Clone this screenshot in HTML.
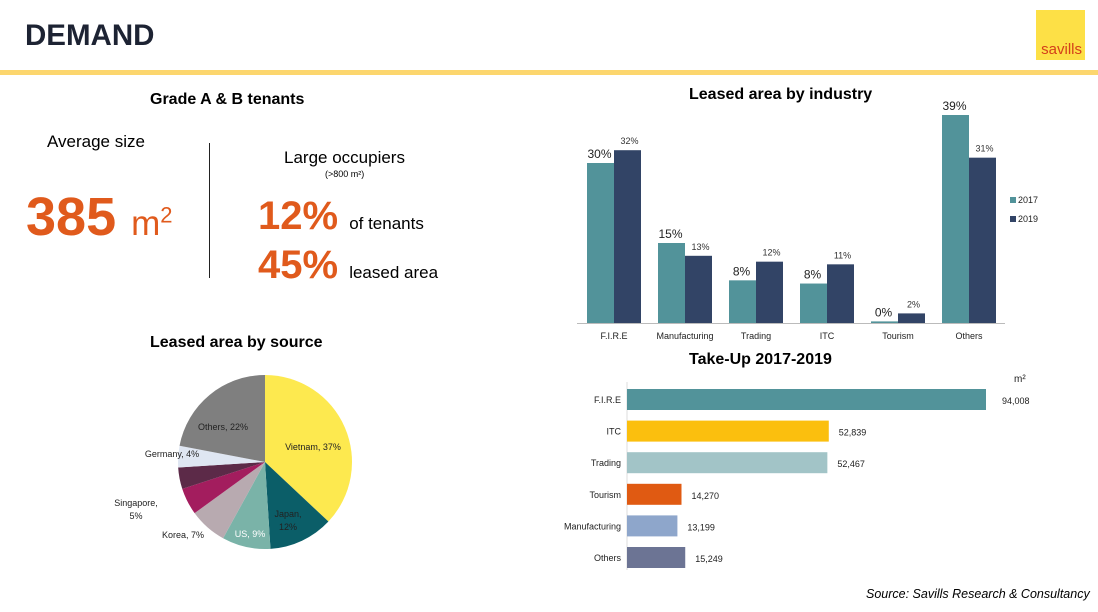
<!DOCTYPE html>
<html><head><meta charset="utf-8"><style>
body{margin:0;width:1098px;height:612px;background:#fff;font-family:"Liberation Sans",sans-serif;position:relative;overflow:hidden}
.a{position:absolute;white-space:nowrap}
.or{color:#e05a1c;font-weight:bold}
</style></head><body>
<div class="a" style="left:25px;top:19px;font-size:29.5px;font-weight:bold;color:#1d2333">DEMAND</div>
<div class="a" style="left:1036px;top:10px;width:49px;height:50px;background:#fde046"><span style="position:absolute;right:3px;bottom:2px;font-size:15px;color:#d4401a">savills</span></div>
<div class="a" style="left:0;top:70px;width:1098px;height:5px;background:#fcd66e"></div>

<div class="a" style="left:150px;top:91px;font-size:16px;font-weight:bold">Grade A &amp; B tenants</div>
<div class="a" style="left:47px;top:132px;font-size:17px">Average size</div>
<div class="a or" style="left:26px;top:186px;font-size:54px">385 <span style="font-weight:normal;font-size:35px">m<sup style="font-size:22px">2</sup></span></div>
<div class="a" style="left:209px;top:143px;width:1px;height:135px;background:#222"></div>
<div class="a" style="left:284px;top:148px;font-size:17px">Large occupiers</div>
<div class="a" style="left:325px;top:169px;font-size:9px">(&gt;800 m²)</div>
<div class="a" style="left:258px;top:194px;font-size:40px"><span class="or">12%</span> <span style="font-size:17px">of tenants</span></div>
<div class="a" style="left:258px;top:243px;font-size:40px"><span class="or">45%</span> <span style="font-size:17px">leased area</span></div>

<div class="a" style="left:150px;top:334px;font-size:16px;font-weight:bold">Leased area by source</div>
<div class="a" style="left:689px;top:86px;font-size:16px;font-weight:bold">Leased area by industry</div>
<div class="a" style="left:689px;top:351px;font-size:16px;font-weight:bold">Take-Up 2017-2019</div>
<div class="a" style="left:866px;top:587px;font-size:12.5px;font-style:italic">Source: Savills Research &amp; Consultancy</div>

<svg class="a" style="left:0;top:0" width="1098" height="612" id="svg"></svg>
<script>
const pieLabels=["Vietnam, 37%","Japan, 12%","US, 9%","Korea, 7%","Singapore, 5%","","Germany, 4%","Others, 22%"];
const pieValues=[37,12,9,7,5,4,4,22];
const pieColors=["#fde94f","#0b5e68","#7ab3a8","#b8aab0","#a31d5e","#5c2a48","#dfe6f2","#7f7f7f"];
const cats=["F.I.R.E","Manufacturing","Trading","ITC","Tourism","Others"];
const v2017=[30,15,8,7.4,0.3,39];
const v2019=[32.4,12.6,11.5,11,1.8,31];
const l2017=["30%","15%","8%","8%","0%","39%"];
const l2019=["32%","13%","12%","11%","2%","31%"];
const tuCats=["F.I.R.E","ITC","Trading","Tourism","Manufacturing","Others"];
const tuVals=[94008,52839,52467,14270,13199,15249];
const tuColors=["#52939a","#fbbf0e","#a2c4c7","#e05a12","#8ea6cb","#6c7494"];
const S=document.getElementById('svg'),NS="http://www.w3.org/2000/svg";
function mk(t,a,p){const e=document.createElementNS(NS,t);for(const k in a)e.setAttribute(k,a[k]);(p||S).appendChild(e);return e;}
function tx(x,y,s,size,anchor,fill,name){const e=mk('text',{x:x,y:y,'font-size':size,'text-anchor':anchor||'middle',fill:fill||'#222','font-family':'Liberation Sans, sans-serif'});e.textContent=s;

return e;}
// pie
const cx=265,cy=462,r=87;let tot=pieValues.reduce((a,b)=>a+b,0),ang=-Math.PI/2;
const lpos=[[313,450,'#222'],[288,523,'#222'],[250,537,'#fff'],[183,538,'#222'],[136,512,'#222'],null,[172,457,'#222'],[223,430,'#222']];
pieValues.forEach((v,i)=>{const a1=ang+v/tot*2*Math.PI;const large=(a1-ang)>Math.PI?1:0;
const p=mk('path',{d:`M${cx},${cy}L${cx+r*Math.cos(ang)},${cy+r*Math.sin(ang)}A${r},${r} 0 ${large} 1 ${cx+r*Math.cos(a1)},${cy+r*Math.sin(a1)}Z`,fill:pieColors[i]});


ang=a1;
if(pieLabels[i]&&lpos[i]){const L=lpos[i];
if(i===1){tx(L[0],L[1]-6,"Japan,",9,'middle','#222','pie-label');tx(L[0],L[1]+7,"12%",9,'middle','#222','pie-label');}
else if(i===4){tx(L[0],L[1]-6,"Singapore,",9,'middle','#222','pie-label');tx(L[0],L[1]+7,"5%",9,'middle','#222','pie-label');}
else tx(L[0],L[1],pieLabels[i],9,'middle',L[2],'pie-label');}});
// grouped bars
const base=323,ppu=208/39,x0=587,pitch=71,bw=27;
const yb=v=>base-v*ppu;
mk('line',{x1:577,y1:base+0.5,x2:1005,y2:base+0.5,stroke:'#bbb'});
cats.forEach((c,i)=>{const gx=x0+i*pitch;
const b1=mk('rect',{x:gx,y:yb(v2017[i]),width:bw,height:v2017[i]*ppu,fill:'#52939a'});


const b2=mk('rect',{x:gx+bw,y:yb(v2019[i]),width:bw,height:v2019[i]*ppu,fill:'#324466'});


tx(gx+bw/2-1,yb(v2017[i])-5,l2017[i],12,'middle','#222','value-2017');
tx(gx+bw*1.5+2,yb(v2019[i])-6,l2019[i],9,'middle','#333','value-2019');
tx(gx+bw,339,c,9,'middle','#222','x-tick');});
const lg1=mk('rect',{x:1010,y:197,width:6,height:6,fill:'#52939a'});
const lg2=mk('rect',{x:1010,y:216,width:6,height:6,fill:'#324466'});
tx(1018,203,"2017",9,'start','#222','legend-label');tx(1018,222,"2019",9,'start','#222','legend-label');
// take-up
const ax=627,ppx=359/94008,rowTop=389,rp=31.6,rh=21;
mk('line',{x1:ax,y1:382,x2:ax,y2:570,stroke:'#ddd'});
tuVals.forEach((v,i)=>{const y=rowTop+i*rp;
const b=mk('rect',{x:ax,y:y,width:v*ppx,height:rh,fill:tuColors[i]});


tx(ax-6,y+14,tuCats[i],9,'end','#222','y-tick');
const lx=ax+v*ppx+(i===0?16:10);
tx(lx,y+15,v.toLocaleString('en-US'),9,'start','#222','takeup-value');});
tx(1014,382,"m²",10,'start','#222','unit-label');
</script>
</body></html>
